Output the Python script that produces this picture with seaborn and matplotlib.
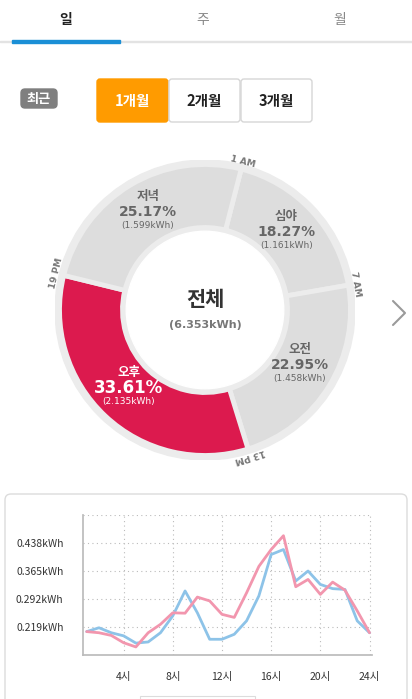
import numpy as np
import pandas as pd
import seaborn as sns
import matplotlib.pyplot as plt
from matplotlib.patches import FancyBboxPatch, Rectangle, Circle

sns.set_theme(style="white")
plt.rcParams['font.family'] = ['Noto Sans CJK KR', 'DejaVu Sans']

tabs = ["일", "주", "월"]
periods = ["1개월", "2개월", "3개월"]
segments = ["심야", "오전", "오후", "저녁"]
seg_pct = [18.27, 22.95, 33.61, 25.17]
seg_kwh = ["1.161kWh", "1.458kWh", "2.135kWh", "1.599kWh"]
boundary_labels = ["1 AM", "7 AM", "13 PM", "19 PM"]
total_label = "(6.353kWh)"
hours = list(range(1, 25))
blue = [0.207, 0.217, 0.204, 0.196, 0.177, 0.180, 0.204, 0.248, 0.313, 0.256, 0.187, 0.187,
        0.200, 0.235, 0.300, 0.408, 0.421, 0.339, 0.365, 0.330, 0.319, 0.317, 0.235, 0.204]
pink = [0.207, 0.204, 0.197, 0.178, 0.167, 0.204, 0.226, 0.256, 0.255, 0.297, 0.287, 0.252,
        0.244, 0.308, 0.377, 0.421, 0.457, 0.324, 0.343, 0.304, 0.336, 0.315, 0.261, 0.204]
yticks = [0.219, 0.292, 0.365, 0.438]
ytick_labels = ["0.219kWh", "0.292kWh", "0.365kWh", "0.438kWh"]
xticks = [4, 8, 12, 16, 20, 24]
xtick_labels = ["4시", "8시", "12시", "16시", "20시", "24시"]

W, H = 412, 699
fig = plt.figure(figsize=(W / 100, H / 100), dpi=100)
fig.patch.set_facecolor("white")

bg = fig.add_axes([0, 0, 1, 1])
bg.set_xlim(0, W); bg.set_ylim(H, 0); bg.axis("off")

for i, t in enumerate(tabs):
    cx = 66 + i * 137
    bg.text(cx, 20, t, ha="center", va="center", fontsize=10,
            color="#222222" if i == 0 else "#888888", fontweight="bold" if i == 0 else "normal")
bg.add_patch(Rectangle((0, 41), W, 1, color="#e3e3e3"))
bg.add_patch(Rectangle((12, 40), 108, 2.5, color="#1a8fd6"))

bg.add_patch(FancyBboxPatch((21, 89), 36, 19, boxstyle="round,pad=0,rounding_size=4",
                            color="#7f7f7f"))
bg.text(39, 98.5, "최근", ha="center", va="center", fontsize=9.5, color="white", fontweight="bold")
for i, p in enumerate(periods):
    x0 = 97 + i * 72
    if i == 0:
        bg.add_patch(FancyBboxPatch((x0, 79), 71, 43, boxstyle="round,pad=0,rounding_size=3",
                                    facecolor="#ff9b00", edgecolor="#ff9b00"))
        col = "white"
    else:
        bg.add_patch(FancyBboxPatch((x0, 79), 71, 43, boxstyle="round,pad=0,rounding_size=3",
                                    facecolor="white", edgecolor="#d6d6d6", lw=1))
        col = "#222222"
    bg.text(x0 + 35.5, 101, p, ha="center", va="center", fontsize=10.5, color=col, fontweight="bold")

bg.plot([393, 405, 393], [301, 313, 325], color="#9a9a9a", lw=1.5)

bg.add_patch(FancyBboxPatch((5, 494), 402, 220, boxstyle="round,pad=0,rounding_size=6",
                            facecolor="white", edgecolor="#dcdcdc", lw=1))
bg.add_patch(Rectangle((140, 696), 115, 5, facecolor="white", edgecolor="#dcdcdc", lw=0.8))

cx, cy, R = 205, 310, 150
ax = fig.add_axes([(cx - R) / W, (H - cy - R) / H, 2 * R / W, 2 * R / H])
ax.add_patch(Circle((0, 0), 1.0, color="#ececec"))
start = 75.6
colors = ["#dddddd", "#dddddd", "#dc1a4e", "#dddddd"]
ax.pie(seg_pct, startangle=start, counterclock=False, colors=colors, radius=0.97,
       wedgeprops=dict(width=0.42, edgecolor="#ececec", linewidth=3.5))
ax.add_patch(Circle((0, 0), 0.55, color="#ececec"))
ax.add_patch(Circle((0, 0), 0.525, color="white"))
ax.set_xlim(-1, 1); ax.set_ylim(-1, 1); ax.set_aspect("equal"); ax.axis("off")
ang = start
for i, (name, pct, kwh) in enumerate(zip(segments, seg_pct, seg_kwh)):
    th = np.deg2rad(ang)
    ax.text(1.02 * np.cos(th), 1.02 * np.sin(th), boundary_labels[i], ha="center", va="center",
            rotation=ang - 90, rotation_mode="anchor", fontsize=6.5, color="#777777",
            fontweight="bold", family=["DejaVu Sans"])
    mid = np.deg2rad(ang - pct * 3.6 / 2)
    r = 0.74
    x, y = r * np.cos(mid), r * np.sin(mid)
    hl = i == 2
    c1 = "white" if hl else "#666666"
    ax.text(x, y + 0.12, name, ha="center", va="center", fontsize=9, color=c1, fontweight="bold")
    ax.text(x, y + 0.02, f"{pct:.2f}%", ha="center", va="center", fontsize=12 if hl else 10,
            color=c1, fontweight="bold", family=["DejaVu Sans"])
    ax.text(x, y - 0.07, f"({kwh})", ha="center", va="center", fontsize=6.5, color=c1,
            family=["DejaVu Sans"])
    ang -= pct * 3.6
ax.text(0, 0.07, "전체", ha="center", va="center", fontsize=15, fontweight="bold", color="#333333")
ax.text(0, -0.1, total_label, ha="center", va="center", fontsize=8, color="#777777",
        fontweight="bold", family=["DejaVu Sans"])

lx = fig.add_axes([83 / W, (H - 655) / H, 289 / W, 140 / H])
df = pd.DataFrame({"hour": hours * 2, "kwh": blue + pink,
                   "series": ["a"] * 24 + ["b"] * 24})
sns.lineplot(data=df, x="hour", y="kwh", hue="series", palette=["#8dc3e8", "#f296ae"],
             linewidth=2, ax=lx, legend=False)
lx.set_xlim(0.7, 24.2)
lx.set_ylim(0.146, 0.511)
lx.set_yticks(yticks); lx.set_yticklabels(ytick_labels, fontsize=7.5, color="#333333")
lx.set_xticks(xticks); lx.set_xticklabels(xtick_labels, fontsize=7.5, color="#333333")
lx.set_xlabel(""); lx.set_ylabel("")
lx.grid(True, linestyle=(0, (1, 3)), color="#bbbbbb", lw=0.8)
lx.axhline(0.511, linestyle=(0, (1, 3)), color="#bbbbbb", lw=0.8)
for s in ["top", "right"]:
    lx.spines[s].set_visible(False)
for s in ["left", "bottom"]:
    lx.spines[s].set_color("#bbbbbb")
lx.tick_params(axis="both", length=0, pad=12)
lx.tick_params(axis="y", pad=14)

fig.savefig("out.png", dpi=100)
